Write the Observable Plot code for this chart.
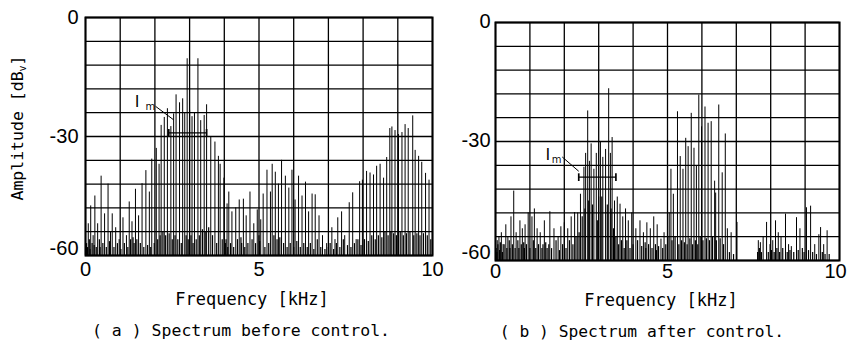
<!DOCTYPE html>
<html><head><meta charset="utf-8">
<script src="https://cdn.jsdelivr.net/npm/d3@7"></script>
<script src="https://cdn.jsdelivr.net/npm/@observablehq/plot@0.6"></script>
<style>
body{margin:0;background:#fff;}
#wrap{position:relative;width:847px;height:343px;overflow:hidden;font-family:"DejaVu Sans Mono",monospace;color:#000;background:#fff}
.t{position:absolute;white-space:nowrap;line-height:1;}
#wrap svg{position:absolute;top:0;overflow:visible}
</style></head><body><div id="wrap"></div>
<script>
// ---- axes / grid ----
const gridFreq = [0,1,2,3,4,5,6,7,8,9,10];
const gridDb = [0,-6,-12,-18,-24,-30,-36,-42,-48,-54,-60];
const xTickLabels = [0,5];
const xLastLabel = [10];
const yTickLabels = [0,-30];
const yBottomLabel = [-60];

// ---- (a) spectrum before control: harmonic lines (kHz, dB) ----
const aFreq = [0.00,0.08,0.15,0.22,0.27,0.35,0.45,0.55,0.65,0.72,0.77,0.87,0.97,1.08,1.18,1.26,1.34,1.44,1.53,1.63,1.74,1.84,1.91,2.04,2.12,2.18,2.27,2.36,2.46,2.54,2.61,2.71,2.80,2.86,2.93,3.00,3.07,3.14,3.24,3.32,3.42,3.49,3.61,3.73,3.83,3.88,3.99,4.08,4.13,4.22,4.33,4.43,4.55,4.63,4.74,4.85,4.95,5.05,5.12,5.23,5.33,5.38,5.47,5.56,5.65,5.76,5.86,5.95,6.04,6.14,6.24,6.34,6.43,6.53,6.62,6.73,6.83,6.95,7.10,7.19,7.27,7.38,7.47,7.60,7.70,7.80,7.90,7.98,8.10,8.20,8.30,8.39,8.49,8.59,8.68,8.77,8.83,8.92,9.02,9.12,9.21,9.30,9.43,9.50,9.60,9.69,9.80,9.90,10.00];
const aAmp = [-43.5,-52,-47.5,-55,-45,-52,-40,-49.5,-42,-54,-49.5,-53,-56,-50.5,-55,-46.5,-51.5,-43.3,-50,-41.9,-38.6,-44,-35.7,-33,-37,-27.2,-25.2,-23,-27.5,-24.3,-19.5,-21.5,-20.5,-24,-10.4,-23.4,-25,-24,-10.4,-26,-24.7,-22,-30,-31.4,-35,-37,-40.5,-47,-44,-49,-48,-46,-45.8,-50,-44,-52,-48.5,-51,-44.5,-38.5,-44,-37,-39,-42,-36,-40,-43,-38.5,-46,-40,-45,-41.5,-49,-44.5,-44.7,-50,-55,-57,-53,-56,-50.5,-49,-55,-46.7,-44.2,-56,-41.4,-41,-38.8,-39.2,-39.7,-37.5,-37,-40.5,-35.3,-28,-27.6,-28.5,-29.5,-29,-27,-28,-24.8,-33.5,-35,-36.5,-39.3,-41,-47];
// (a) noise floor
const aNoiseFreq = [0.03,0.06,0.11,0.13,0.19,0.25,0.31,0.40,0.42,0.50,0.60,0.69,0.82,0.92,1.02,1.12,1.22,1.30,1.37,1.40,1.48,1.58,1.68,1.79,1.88,1.98,2.08,2.15,2.23,2.31,2.41,2.50,2.58,2.66,2.76,2.90,2.96,3.04,3.10,3.19,3.28,3.37,3.45,3.55,3.66,3.78,3.94,4.03,4.05,4.10,4.18,4.27,4.38,4.48,4.50,4.59,4.68,4.80,4.90,5.00,5.02,5.17,5.28,5.43,5.52,5.60,5.71,5.81,5.90,6.00,6.09,6.19,6.29,6.39,6.48,6.58,6.68,6.78,6.90,7.00,7.05,7.15,7.23,7.33,7.43,7.55,7.65,7.75,7.85,7.94,8.04,8.15,8.25,8.35,8.44,8.54,8.63,8.72,8.80,8.88,8.96,9.07,9.16,9.25,9.35,9.46,9.55,9.64,9.74,9.85,9.95];
const aNoiseAmp = [-57,-58,-56,-58.5,-57,-57.5,-58,-56,-58,-57,-58,-56.5,-58,-57,-58.5,-57,-58,-56,-55.5,-57,-56,-57,-58,-57.5,-58,-57,-56,-55,-54,-55,-54.5,-56,-55,-56,-57,-55,-56,-55,-57,-56,-55,-53.5,-54,-53,-55,-57,-56,-57,-56,-58,-57,-58,-56,-55.5,-57,-58,-57,-56,-57,-55,-56.5,-58,-57,-55,-56,-55.5,-57,-58,-57,-58,-56.5,-58,-57,-58,-57,-58.5,-56,-58,-58.5,-58,-57,-58.5,-57,-58,-56,-57.5,-58,-57,-56,-57.5,-56,-56.5,-55,-56,-55,-55.5,-54,-55,-54,-54.5,-55,-54,-55,-54.5,-54,-55,-54.5,-55,-54.5,-55,-56];
// (a) I_m annotation (kHz, dB)
const aLabel = [1.49, -21.2];
const aSub = [1.87, -22.6];
const aLeader = [2.02, -22.4, 2.54, -25.8];
const aBracket = [2.4, 3.49, -29.1];

// ---- (b) spectrum after control ----
const bFreq = [0.00,0.05,0.10,0.17,0.22,0.30,0.36,0.45,0.53,0.60,0.71,0.78,0.86,0.95,1.06,1.13,1.21,1.30,1.42,1.58,1.70,1.82,1.90,2.00,2.10,2.20,2.30,2.39,2.47,2.57,2.62,2.68,2.73,2.78,2.86,2.93,3.00,3.05,3.12,3.20,3.29,3.34,3.39,3.46,3.54,3.62,3.70,3.78,3.86,3.96,4.08,4.20,4.30,4.40,4.50,4.60,4.70,4.81,4.90,5.05,5.10,5.17,5.29,5.37,5.45,5.53,5.60,5.69,5.77,5.84,5.91,5.99,6.09,6.18,6.27,6.37,6.40,6.49,6.59,6.68,6.74,6.85,7.02,7.64,7.70,7.78,7.88,7.98,8.06,8.14,8.22,8.30,8.43,8.52,8.60,8.75,8.85,9.04,9.16,9.28,9.40,9.45,9.54,9.64];
const bAmp = [-56.5,-55,-54,-53,-56,-51,-54,-49,-42.5,-53,-50,-52,-51,-48,-49,-47,-52,-53,-50,-47.7,-52,-54,-51.5,-50.5,-52,-49,-47.9,-48,-43.3,-36.5,-33,-22.3,-35,-30.6,-37,-33,-44,-30.2,-34,-32,-16.7,-33,-29,-45,-44,-45.8,-49,-47,-50,-48,-52,-50,-53,-50.5,-52,-49,-51,-54.6,-53,-48,-37,-43.3,-22.5,-33.8,-37,-29.2,-31.3,-22.9,-31.7,-36.3,-18.3,-26.3,-21.3,-25.4,-25,-40,-43,-20.8,-37.9,-28.1,-52,-53,-50.4,-55,-55.5,-54,-50.4,-56,-55,-50,-53,-54,-48.3,-56,-56.5,-49.2,-52,-46.7,-46.3,-56,-53.5,-51.7,-56,-52.5];
const bNoiseFreq = [0.02,0.04,0.07,0.12,0.14,0.20,0.25,0.33,0.40,0.42,0.49,0.57,0.65,0.68,0.75,0.82,0.84,0.90,1.00,1.10,1.17,1.25,1.35,1.38,1.46,1.50,1.55,1.63,1.76,1.86,1.95,2.05,2.15,2.25,2.34,2.43,2.52,2.60,2.71,2.82,2.96,3.09,3.25,3.36,3.43,3.50,3.58,3.66,3.74,3.82,3.91,4.00,4.13,4.25,4.35,4.37,4.45,4.55,4.65,4.68,4.74,4.86,4.95,5.01,5.13,5.22,5.33,5.41,5.49,5.57,5.65,5.73,5.81,5.88,5.95,6.03,6.13,6.22,6.31,6.42,6.53,6.63,6.80,6.92,7.62,7.67,7.73,7.93,8.02,8.10,8.18,8.26,8.35,8.48,8.56,8.67,8.80,8.92,8.97,9.10,9.22,9.33,9.50,9.58,9.70];
const bNoiseAmp = [-57,-58,-56,-57.5,-55.5,-58,-56,-57,-55,-57,-56,-57,-55,-57,-56,-55.5,-57,-56,-57,-55,-57,-56,-57,-56,-55.5,-57,-56,-57,-55,-57.5,-56,-57,-55,-56,-54,-53,-49,-47,-45,-46,-50,-44,-46,-47,-52,-54,-56,-55,-57,-55,-57,-56,-55,-56.5,-55.5,-57,-56,-57,-56,-57.5,-56.5,-57,-56,-54,-55,-54,-56,-55,-55.5,-56,-54.5,-56,-55,-56,-54,-55,-54.5,-55,-54,-55,-54.5,-56,-58,-58.5,-58,-57,-58,-58,-57.5,-58,-57,-58,-57,-58,-57.5,-58,-57.5,-57,-58,-57.5,-58,-58.5,-58,-58.5,-58.5];
const bLabel = [1.52, -33.3];
const bSub = [1.78, -34.6];
const bLeader = [1.94, -33.9, 2.42, -37.5];
const bBracket = [2.42, 3.5, -39];

function panel(o) {
  const tickFont = {fontSize: 20, fontFamily: "Liberation Sans, Arial, sans-serif", fill: "#000"};
  const idx = a => a.map((_, i) => i);
  return Plot.plot({
    width: o.width, height: o.height,
    marginLeft: o.ml, marginRight: o.mr, marginTop: o.mt, marginBottom: o.mb,
    x: {domain: [0, 10]},
    y: {domain: [-60, 0]},
    style: {background: "transparent", color: "#000", overflow: "visible"},
    marks: [
      Plot.gridX(gridFreq, {stroke: "#000", strokeOpacity: 1, strokeWidth: 1.3}),
      Plot.gridY(gridDb, {stroke: "#000", strokeOpacity: 1, strokeWidth: 1.3}),
      Plot.ruleX(idx(o.nf), {x: i => o.nf[i], y1: -60, y2: i => o.na[i], stroke: "#000", strokeWidth: 1.2}),
      Plot.ruleX(idx(o.sf), {x: i => o.sf[i], y1: -60, y2: i => o.sa[i], stroke: "#000", strokeWidth: 1}),
      Plot.frame({stroke: "#000", strokeWidth: 2}),
      Plot.axisX(xTickLabels, {tickSize: 0, tickPadding: o.xpad, label: null, tickFormat: d => String(d), ...tickFont}),
      Plot.axisX(xLastLabel, {tickSize: 0, tickPadding: o.xpad, label: null, tickFormat: d => String(d), dx: o.lastDx, ...tickFont}),
      Plot.axisY(yTickLabels, {tickSize: 0, tickPadding: o.ypad, label: null, tickFormat: d => String(d), dy: o.topDy, ...tickFont}),
      Plot.axisY(yBottomLabel, {tickSize: 0, tickPadding: o.ypad, label: null, tickFormat: d => String(d), dy: o.botDy, ...tickFont}),
      Plot.text(["I"], {x: o.lab[0], y: o.lab[1], fontSize: 17, fill: "#000", fillOpacity: 0.99, fontFamily: "Liberation Sans, sans-serif"}),
      Plot.text(["m"], {x: o.sub[0], y: o.sub[1], fontSize: 10, fill: "#000", fillOpacity: 0.99, fontFamily: "DejaVu Sans, sans-serif"}),
      Plot.link([o.lead], {x1: d => d[0], y1: d => d[1], x2: d => d[2], y2: d => d[3], stroke: "#000", strokeWidth: 1}),
      Plot.link([o.br], {x1: d => d[0], x2: d => d[1], y1: d => d[2], y2: d => d[2], stroke: "#000", strokeWidth: 1.3, markerStart: "tick-y", markerEnd: "tick-y"})
    ]
  });
}

const wrap = document.getElementById("wrap");
const pa = panel({width: 450, height: 285, ml: 85, mr: 18, mt: 17, mb: 30, xpad: 6, ypad: 7, topDy: 0, botDy: -7, lastDx: 0,
  sf: aFreq, sa: aAmp, nf: aNoiseFreq, na: aNoiseAmp, lab: aLabel, sub: aSub, lead: aLeader, br: aBracket});
pa.style.left = "0px";
wrap.appendChild(pa);
const pb = panel({width: 407, height: 290, ml: 55, mr: 8, mt: 22, mb: 30, xpad: 3, ypad: 5, topDy: -1, botDy: -8, lastDx: -4,
  sf: bFreq, sa: bAmp, nf: bNoiseFreq, na: bNoiseAmp, lab: bLabel, sub: bSub, lead: bLeader, br: bBracket});
pb.style.left = "440px";
wrap.appendChild(pb);

function addText(html, cx, cy, fs, rotate) {
  const d = document.createElement("div");
  d.className = "t";
  d.innerHTML = html;
  d.style.fontSize = fs + "px";
  d.style.left = cx + "px";
  d.style.top = cy + "px";
  d.style.transform = "translate(-50%,-50%)" + (rotate ? " rotate(-90deg)" : "");
  wrap.appendChild(d);
}
addText("Amplitude [dB<sub style='font-size:10px;vertical-align:-3px'>v</sub>]", 19, 128, 16.5, true);
addText("Frequency [kHz]", 252, 299, 17);
addText("Frequency [kHz]", 661, 300, 17);
addText("( a ) Spectrum before control.", 241, 331, 16.5);
addText("( b ) Spectrum after control.", 642, 332, 16.3);
</script>
</body></html>
